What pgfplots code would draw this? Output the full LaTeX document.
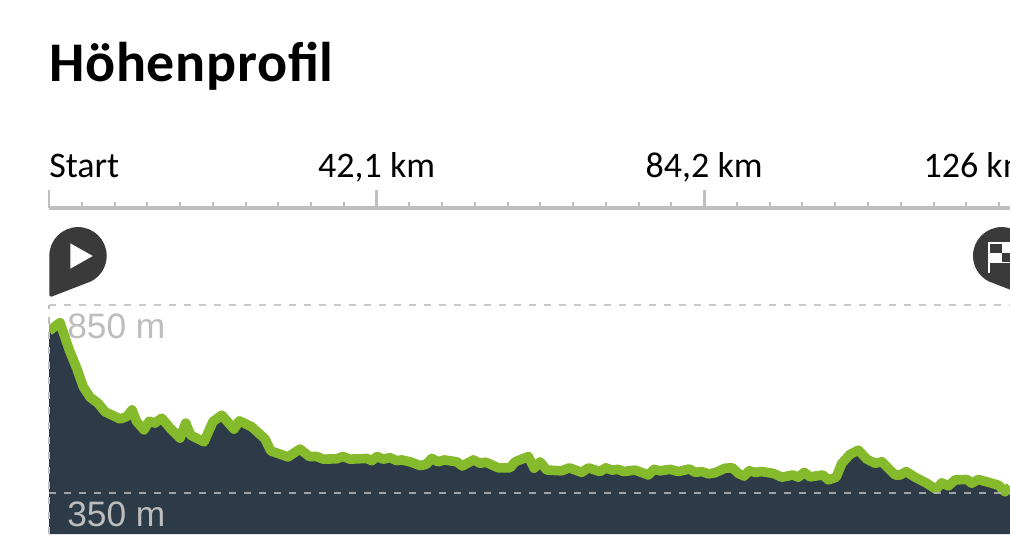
\documentclass[border=0pt]{standalone}
\usepackage{fontspec}
\setmainfont{Liberation Sans}
\newfontfamily\headfont{Carlito}
\newfontfamily\titlefont[LetterSpace=1.3]{Carlito}
\usepackage{pgfplots}
\usepackage{pgfplotstable}
\pgfplotsset{compat=1.18}

\definecolor{ruler}{HTML}{BFBFBF}
\definecolor{trackfill}{HTML}{2D3A48}
\definecolor{trackline}{HTML}{84BA2C}
\definecolor{pincol}{HTML}{3A3A3A}
\definecolor{elev}{HTML}{BDBDBD}

% distance (km), elevation (m)
\pgfplotstableread{
km m
0 781
1.41 803
2.61 730
3.56 682
4.41 632
5.27 605
6.30 589
7.20 566
9.13 547
9.99 553
10.67 571
11.27 540
12.21 518
12.89 541
13.62 536
14.49 549
15.55 523
16.84 496
17.57 536
18.21 504
19.92 486
21.08 540
22.20 557
23.78 520
24.46 542
26.05 526
27.76 494
28.50 462
30.72 446
32.26 467
33.46 447
34.41 447
35.26 440
36.98 441
37.75 447
38.69 440
40.83 442
41.48 436
42.16 447
42.93 440
43.83 444
44.69 436
45.33 438
46.40 433
47.69 423
48.46 426
49.19 442
50.00 433
50.77 438
52.40 433
53.12 422
54.54 438
55.40 429
56.13 432
57.75 417
59.25 417
59.90 433
60.76 440
61.61 447
62.34 416
63.11 433
63.97 411
65.90 409
66.87 417
68.47 405
69.32 417
70.82 407
71.55 417
72.32 411
73.17 413
73.81 407
75.32 411
77.03 398
77.76 413
78.53 409
79.82 413
80.88 407
82.30 414
83.03 405
83.89 407
84.74 401
85.60 404
86.89 416
87.83 417
88.60 402
89.33 395
89.97 409
90.75 405
91.61 407
93.10 402
94.18 392
95.59 398
96.31 392
97.04 405
97.81 393
99.45 398
100.16 385
101.16 392
101.89 429
102.96 453
104.02 464
105.10 440
106.17 429
107.03 433
108.74 398
109.38 398
110.15 407
111.31 392
112.81 376
113.97 360
114.74 377
115.59 369
116.45 385
117.95 386
118.59 376
119.44 386
122.01 371
122.87 353
123.51 367
}\profile

\begin{document}
\begin{tikzpicture}
\useasboundingbox (0,0) rectangle (757.5pt,412.5pt);
\clip (0,0) rectangle (757.5pt,412.5pt);

% title
\node[anchor=base west,inner sep=0pt,font=\titlefont\bfseries\fontsize{42}{42}\selectfont]
  at (36.75pt,351pt) {Höhenprofil};

% distance ruler
\begin{axis}[
  name=ruler,
  at={(36.75pt,256.5pt)},
  scale only axis, width=720.75pt, height=1pt,
  xmin=0, xmax=123.5, ymin=0, ymax=1,
  hide y axis, axis x line*=bottom,
  x axis line style={ruler,line width=2.4pt},
  tick align=outside,
  xtick={0,42.1,84.2},
  xticklabels={},
  minor xtick={4.21,8.42,12.63,16.84,21.05,25.26,29.47,33.68,37.89,46.31,50.52,54.73,58.94,63.15,67.36,71.57,75.78,79.99,88.41,92.62,96.83,101.04,105.25,109.46,113.67,117.88,122.09},
  major tick length=13.5pt, minor tick length=4.5pt,
  major tick style={ruler,line width=2pt},
  minor tick style={ruler,line width=1.5pt},
  xtick pos=bottom,
  x tick style={yscale=-1},
  clip=false,
]
\tikzset{lab/.style={inner sep=0pt,yshift=22.5pt,font=\headfont\fontsize{27}{27}\selectfont}}
\node[lab,anchor=base west] at (axis cs:0,0) {Start};
\node[lab,anchor=base] at (axis cs:42.1,0) {42,1 km};
\node[lab,anchor=base] at (axis cs:84.2,0) {84,2 km};
\node[lab,anchor=base west] at (axis cs:112.35,0) {126 km};
\end{axis}

% elevation profile
\begin{axis}[
  at={(36.75pt,12pt)},
  scale only axis, width=720.75pt, height=171.75pt,
  xmin=0, xmax=123.5, ymin=241, ymax=850,
  hide x axis, axis y line*=left,
  y axis line style={elev,line width=1pt,dash pattern=on 5.25pt off 6pt},
  ytick={350,850}, yticklabels={350 m,850 m},
  major tick length=0pt,
  ymajorgrids,
  grid style={elev,opacity=0.8,line width=1pt,dash pattern=on 5.25pt off 6pt},
  axis on top,
  yticklabel style={anchor=west,inner sep=0pt,xshift=13.5pt,yshift=-15.75pt,text=elev,
    font=\fontsize{26.5}{26.5}\selectfont},
]
\addplot[draw=none,fill=trackfill] table[x=km,y=m] {\profile} \closedcycle;
\addplot[trackline,line width=7.2pt,line join=round] table[x=km,y=m] {\profile};
\end{axis}

% start and finish pins, in pixel coordinates of the page
\begin{scope}[x=0.75pt,y=-0.75pt,yshift=412.5pt]
\fill[pincol] (49.3,255.8) arc[start angle=180,end angle=423,radius=28.7]
  [rounded corners=2pt] -- (49.3,297.5) -- (49.3,255.8);
\fill[white] (70.3,243.3) -- (92.7,256) -- (70.3,268.7) -- cycle;
\fill[pincol] (1030.4,255.8) arc[start angle=360,end angle=117,radius=28.7]
  -- (1030.4,297.5) -- cycle;
\fill[white] (987.7,242) rectangle (990,273);
\fill[white] (990,242) rectangle (1010,263);
\fill[pincol] (990,244.3) rectangle (1001.7,253.3);
\fill[pincol] (1001.7,253.3) rectangle (1010,261.7);
\end{scope}
\end{tikzpicture}
\end{document}
